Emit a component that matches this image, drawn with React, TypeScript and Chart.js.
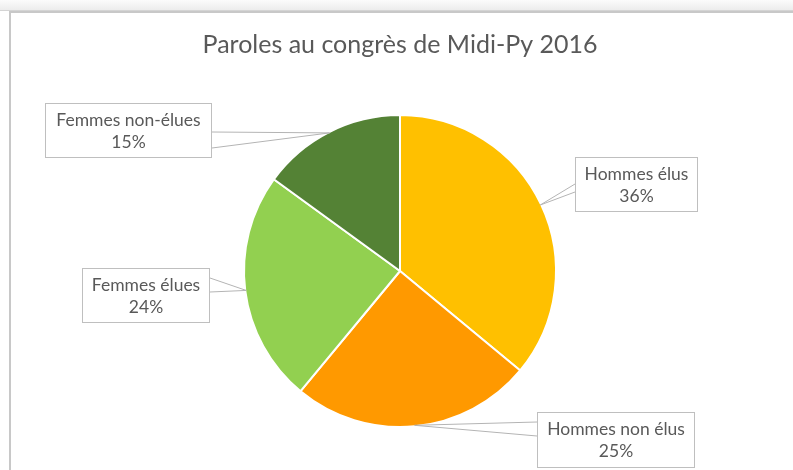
import React, { useEffect, useRef } from "react";
import { Chart, registerables } from "chart.js";

Chart.register(...registerables);

const TITLE = "Paroles au congrès de Midi-Py 2016";
const categories = ["Hommes élus", "Hommes non élus", "Femmes élues", "Femmes non-élues"];
const values = [36, 25, 24, 15];
const colors = ["#FFC000", "#FF9900", "#92D050", "#548235"];

// callout box layout (canvas pixels): x, y, w, h, side of wedge, wedge base y-range
const calloutLayout = [
  { x: 575, y: 157, w: 123, h: 55, side: "left", b0: 184, b1: 192 },
  { x: 537, y: 412, w: 158, h: 56, side: "left", b0: 422, b1: 436 },
  { x: 82, y: 268, w: 128, h: 55, side: "right", b0: 278, b1: 292 },
  { x: 45, y: 103, w: 167, h: 55, side: "right", b0: 132, b1: 148 },
];

const LABEL_FONT = "17.5px Lato, 'Open Sans', sans-serif";
const TEXT_COLOR = "#595959";

const calloutPlugin = {
  id: "callouts",
  afterDatasetsDraw(chart: any) {
    const ctx = chart.ctx as CanvasRenderingContext2D;
    const meta = chart.getDatasetMeta(0);
    const data = chart.data.datasets[0].data as number[];
    const total = data.reduce((a, b) => a + b, 0);
    meta.data.forEach((arc: any, i: number) => {
      const p = arc.getProps(["x", "y", "startAngle", "endAngle", "outerRadius"], true);
      const mid = (p.startAngle + p.endAngle) / 2;
      const ax = p.x + Math.cos(mid) * (p.outerRadius - 1);
      const ay = p.y + Math.sin(mid) * (p.outerRadius - 1);
      const L = calloutLayout[i];
      const ex = L.side === "left" ? L.x : L.x + L.w;
      ctx.save();
      ctx.strokeStyle = "#b4b4b4";
      ctx.lineWidth = 1;
      ctx.beginPath();
      ctx.moveTo(ex, L.b0);
      ctx.lineTo(ax, ay);
      ctx.lineTo(ex, L.b1);
      ctx.stroke();
      ctx.fillStyle = "#ffffff";
      ctx.fillRect(L.x, L.y, L.w, L.h);
      ctx.strokeStyle = "#bfbfbf";
      ctx.strokeRect(L.x + 0.5, L.y + 0.5, L.w - 1, L.h - 1);
      ctx.fillStyle = TEXT_COLOR;
      ctx.font = LABEL_FONT;
      ctx.textAlign = "center";
      ctx.textBaseline = "middle";
      const cx = L.x + L.w / 2;
      ctx.fillText(chart.data.labels[i], cx, L.y + 17);
      ctx.fillText(Math.round((data[i] / total) * 100) + "%", cx, L.y + 39);
      ctx.restore();
    });
  },
};

export default function App() {
  const ref = useRef<HTMLCanvasElement | null>(null);
  useEffect(() => {
    document.body.style.margin = "0";
    if (!ref.current) return;
    const chart = new Chart(ref.current, {
      type: "pie",
      data: {
        labels: categories,
        datasets: [
          {
            data: values,
            backgroundColor: colors,
            borderColor: "#ffffff",
            borderWidth: 2,
          },
        ],
      },
      options: {
        responsive: false,
        animation: false,
        devicePixelRatio: 1,
        layout: { padding: { left: 7, right: 0, top: 0, bottom: 42 } },
        plugins: {
          legend: { display: false },
          tooltip: { enabled: false },
          title: {
            display: true,
            text: TITLE,
            color: TEXT_COLOR,
            font: { family: "Lato, 'Open Sans', sans-serif", size: 25, weight: "normal", lineHeight: 1.2 },
            padding: { top: 30, bottom: 54 },
          },
        },
      },
      plugins: [calloutPlugin],
    });
    return () => chart.destroy();
  }, []);
  return (
    <div style={{ position: "fixed", left: 0, top: 0, width: 793, height: 470, background: "#ffffff", overflow: "hidden" }}>
      <div
        style={{
          position: "absolute",
          left: 0,
          top: 0,
          width: 793,
          height: 10,
          background: "linear-gradient(#fbfbfb, #ececec)",
          borderBottom: "1px solid #d4d4d4",
        }}
      />
      <div
        style={{
          position: "absolute",
          left: 9,
          top: 11,
          width: 800,
          height: 470,
          borderLeft: "2px solid #c8c8c8",
          borderTop: "2px solid #c8c8c8",
          boxSizing: "border-box",
        }}
      />
      <canvas ref={ref} width={793} height={470} style={{ position: "absolute", left: 0, top: 0, width: 793, height: 470 }} />
    </div>
  );
}
